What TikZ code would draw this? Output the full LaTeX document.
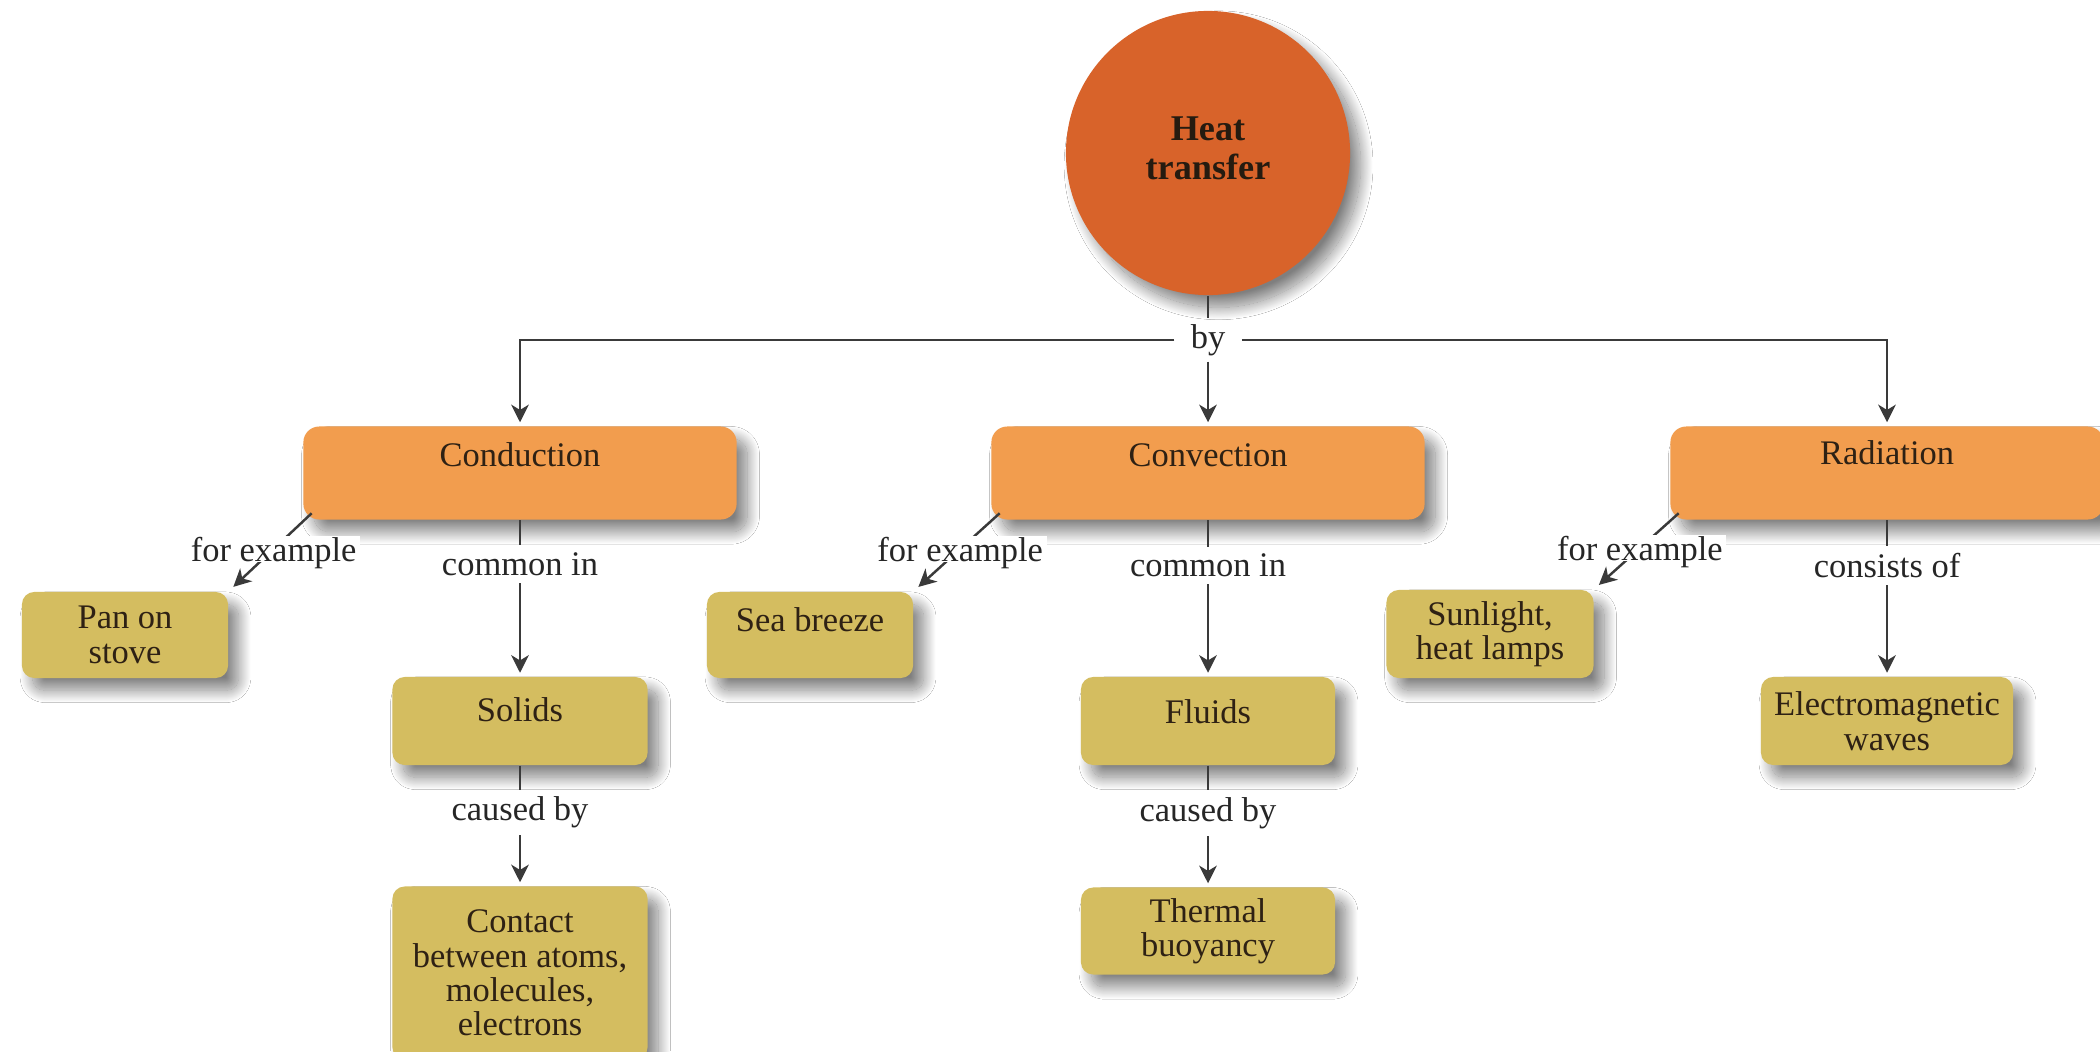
\documentclass[tikz,border=0pt]{standalone}
\usepackage{fontspec}
\setmainfont{Liberation Serif}
\usetikzlibrary{shadows.blur, arrows.meta}
\definecolor{heatC}{HTML}{D8632A}
\definecolor{orangeC}{HTML}{F29D4E}
\definecolor{yellowC}{HTML}{D4BD60}
\definecolor{inkC}{HTML}{2E2114}
\definecolor{lineC}{HTML}{3A3A3A}
\begin{document}
\begin{tikzpicture}[x=0.01cm, y=-0.01cm,
  softshadow/.style={blur shadow={shadow xshift=3pt, shadow yshift=-3.5pt, shadow blur radius=3.5pt, shadow blur steps=30, shadow opacity=50}},
  obox/.style={fill=orangeC, rounded corners=4.5pt, minimum width=4.33cm, minimum height=0.93cm, softshadow},
  ybox/.style={fill=yellowC, rounded corners=3.5pt, softshadow, text=inkC, align=center, font=\fontsize{9.8}{9.8}\selectfont, inner sep=0pt},
  boxtxt/.style={text=inkC, font=\fontsize{9.8}{9.8}\selectfont, align=center, inner sep=0pt},
  lbl/.style={text=black!85, font=\fontsize{9.8}{9.8}\selectfont, fill=white, inner xsep=2pt, inner ysep=2pt},
  felbl/.style={lbl, text depth=0pt, inner ysep=0.3pt, inner xsep=1pt},
  ln/.style={draw=lineC, line width=0.7pt},
  arr/.style={ln, -{Stealth[length=5pt, width=5pt, inset=1.5pt]}, shorten >=1pt}
]
\fill[white] (0,0) rectangle (2100,1051);
\useasboundingbox (0,0) rectangle (2100,1051);

% central circle
\node[circle, fill=heatC, minimum size=2.84cm, inner sep=0pt, softshadow] (heat) at (1208,153) {};
\node[text=inkC!80!black, align=center, inner sep=0pt, font=\bfseries\fontsize{10.3}{11}\selectfont] (heatT) at (1208,148) {Heat\\transfer};

% level-1 boxes
\node[obox] (cond) at (520,473) {};
\node[obox] (conv) at (1208,473) {};
\node[obox] (rad)  at (1887,473) {};
\node[boxtxt] (condT) at (520,455) {Conduction};
\node[boxtxt] (convT) at (1208,455) {Convection};
\node[boxtxt] (radT)  at (1887,453) {Radiation};

% level-2 boxes
\node[ybox, minimum width=2.06cm, minimum height=0.86cm] (pan) at (125,635) {Pan on\\stove};
\node[ybox, minimum width=2.55cm, minimum height=0.88cm] (solids) at (520,721) {};
\node[boxtxt] (solidsT) at (520,710) {Solids};
\node[ybox, minimum width=2.55cm, minimum height=1.73cm] (contact) at (520,973) {Contact\\between atoms,\\molecules,\\electrons};
\node[ybox, minimum width=2.06cm, minimum height=0.86cm] (sea) at (810,635) {};
\node[boxtxt] (seaT) at (810,620) {Sea breeze};
\node[ybox, minimum width=2.54cm, minimum height=0.88cm] (fluids) at (1208,721) {};
\node[boxtxt] (fluidsT) at (1208,712) {Fluids};
\node[ybox, minimum width=2.54cm, minimum height=0.87cm] (thermal) at (1208,931) {Thermal\\buoyancy};
\node[ybox, minimum width=2.07cm, minimum height=0.88cm] (sun) at (1490,634) {Sunlight,\\heat lamps};
\node[ybox, minimum width=2.52cm, minimum height=0.88cm] (em) at (1887,721) {Electromagnetic\\waves};

% top tree
\node[text=black!85, font=\fontsize{9.8}{9.8}\selectfont, inner xsep=4.5pt, inner ysep=1.5pt] (by) at (1208,340) {by};
\coordinate (jl) at (520,340);
\coordinate (jr) at (1887,340);
\draw[ln] (heat.south) -- (by.north);
\draw[arr] (by.west) -- (jl) -- (cond.north);
\draw[arr] (by.east) -- (jr) -- (rad.north);
\draw[arr] (by.south) -- (conv.north);

% for example
\draw[arr] ([shift={(9,-7)}]cond.south west) -- node[felbl, pos=0.47] (fe1) {for example} ([shift={(2,-2)}]pan.north east);
\draw[arr] ([shift={(9,-7)}]conv.south west) -- node[felbl, pos=0.47] (fe2) {for example} ([shift={(2,-2)}]sea.north east);
\draw[arr] ([shift={(9,-7)}]rad.south west) -- node[felbl, pos=0.47] (fe3) {for example} ([shift={(2,-2)}]sun.north east);

% vertical chains
\draw[arr] (cond.south) -- node[lbl, pos=0.28] (ci1) {common in} (solids.north);
\draw[arr] (solids.south) -- node[lbl, pos=0.39] (cb1) {caused by} (contact.north);
\draw[arr] (conv.south) -- node[lbl, pos=0.29] (ci2) {common in} (fluids.north);
\draw[arr] (fluids.south) -- node[lbl, pos=0.39] (cb2) {caused by} (thermal.north);
\draw[arr] (rad.south) -- node[lbl, pos=0.29] (co3) {consists of} (em.north);
\end{tikzpicture}
\end{document}
